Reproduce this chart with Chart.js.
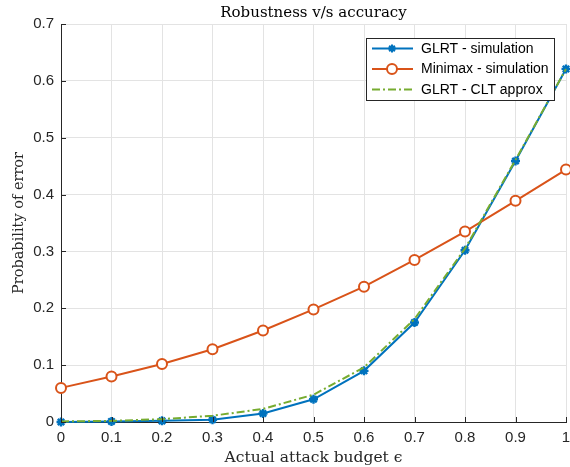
<!DOCTYPE html>
<html>
<head>
<meta charset="utf-8">
<script src="https://cdn.jsdelivr.net/npm/chart.js@4.4.0/dist/chart.umd.min.js"></script>
<style>
html,body{margin:0;padding:0;background:#fff;overflow:hidden;}
#wrap{width:570px;height:467px;overflow:hidden;}
</style>
</head>
<body>
<div id="wrap"><canvas id="c" width="573" height="467"></canvas></div>
<script>
// ---- data ----
const eps = [0, 0.1, 0.2, 0.3, 0.4, 0.5, 0.6, 0.7, 0.8, 0.9, 1];
const glrtSim = [0.000, 0.001, 0.002, 0.004, 0.015, 0.040, 0.090, 0.175, 0.302, 0.459, 0.621];
const minimaxSim = [0.060, 0.080, 0.102, 0.128, 0.161, 0.198, 0.238, 0.285, 0.335, 0.389, 0.444];
const glrtClt = [0.001, 0.002, 0.005, 0.011, 0.023, 0.048, 0.096, 0.181, 0.305, 0.461, 0.621];
const xTickLabels = ['0', '0.1', '0.2', '0.3', '0.4', '0.5', '0.6', '0.7', '0.8', '0.9', '1'];
const yTickLabels = ['0', '0.1', '0.2', '0.3', '0.4', '0.5', '0.6', '0.7'];
const seriesNames = ['GLRT - simulation', 'Minimax - simulation', 'GLRT - CLT approx'];

const BLUE = '#0072BD', ORANGE = '#D95319', GREEN = '#77AC30';
const pts = arr => eps.map((x, i) => ({x: x, y: arr[i]}));

function drawStar(ctx, x, y, r) {
  ctx.beginPath();
  for (let k = 0; k < 4; k++) {
    const a = k * Math.PI / 4;
    ctx.moveTo(x - r * Math.cos(a), y - r * Math.sin(a));
    ctx.lineTo(x + r * Math.cos(a), y + r * Math.sin(a));
  }
  ctx.stroke();
}

const tickPlugin = {
  id: 'innerTicks',
  afterDatasetsDraw(chart) {
    const ctx = chart.ctx, xs = chart.scales.x, ys = chart.scales.y;
    ctx.save();
    ctx.strokeStyle = '#262626';
    ctx.lineWidth = 1;
    ctx.beginPath();
    xs.ticks.forEach(t => {
      const px = Math.round(xs.getPixelForValue(t.value)) + 0.5;
      ctx.moveTo(px, ys.bottom); ctx.lineTo(px, ys.bottom - 5);
    });
    ys.ticks.forEach(t => {
      const py = Math.round(ys.getPixelForValue(t.value)) + 0.5;
      ctx.moveTo(xs.left, py); ctx.lineTo(xs.left + 5, py);
    });
    ctx.stroke();
    ctx.restore();
  }
};

const legendPlugin = {
  id: 'boxLegend',
  afterDraw(chart) {
    const ctx = chart.ctx;
    const bx = 366.5, by = 38.5, bw = 188, bh = 62;
    ctx.save();
    ctx.fillStyle = '#fff';
    ctx.fillRect(bx, by, bw, bh);
    ctx.strokeStyle = '#262626';
    ctx.lineWidth = 1;
    ctx.strokeRect(bx, by, bw, bh);
    const rows = [48.5, 69, 89.5];
    const x0 = 372, x1 = 413, xm = 392;
    ctx.font = '14px "Liberation Sans", Arial, sans-serif';
    ctx.textBaseline = 'middle';
    ctx.textAlign = 'left';
    ctx.lineWidth = 2;
    ctx.strokeStyle = BLUE;
    ctx.beginPath(); ctx.moveTo(x0, rows[0]); ctx.lineTo(x1, rows[0]); ctx.stroke();
    drawStar(ctx, xm, rows[0], 4);
    ctx.strokeStyle = ORANGE;
    ctx.beginPath(); ctx.moveTo(x0, rows[1]); ctx.lineTo(x1, rows[1]); ctx.stroke();
    ctx.fillStyle = '#fff';
    ctx.beginPath(); ctx.arc(xm, rows[1], 5, 0, 2 * Math.PI); ctx.fill(); ctx.stroke();
    ctx.strokeStyle = GREEN;
    ctx.setLineDash([8, 3, 2, 3]);
    ctx.beginPath(); ctx.moveTo(x0, rows[2]); ctx.lineTo(x1, rows[2]); ctx.stroke();
    ctx.setLineDash([]);
    ctx.fillStyle = '#000';
    seriesNames.forEach((n, i) => ctx.fillText(n, 421, rows[i] + 0.5));
    ctx.restore();
  }
};

new Chart(document.getElementById('c'), {
  type: 'line',
  data: {
    datasets: [
      {
        label: seriesNames[0], data: pts(glrtSim), borderColor: BLUE, backgroundColor: BLUE,
        borderWidth: 2, pointStyle: 'star', pointRadius: 4.5, pointBorderWidth: 2.4,
        pointBorderColor: BLUE, pointBackgroundColor: BLUE, clip: false, order: 2, tension: 0
      },
      {
        label: seriesNames[1], data: pts(minimaxSim), borderColor: ORANGE, backgroundColor: '#fff',
        borderWidth: 2, pointStyle: 'circle', pointRadius: 5, pointBorderWidth: 2,
        pointBorderColor: ORANGE, pointBackgroundColor: '#fff', clip: false, order: 1, tension: 0
      },
      {
        label: seriesNames[2], data: pts(glrtClt), borderColor: GREEN, backgroundColor: GREEN,
        borderWidth: 2, borderDash: [8, 3, 2, 3], pointRadius: 0, clip: false, order: 0, tension: 0
      }
    ]
  },
  options: {
    responsive: false,
    animation: false,
    devicePixelRatio: 1,
    layout: {padding: {left: 0, right: 0, top: 0, bottom: 0}},
    plugins: {
      legend: {display: false},
      tooltip: {enabled: false},
      title: {
        display: true, text: 'Robustness v/s accuracy', color: '#000', fullSize: false,
        font: {family: '"DejaVu Serif", serif', size: 15, weight: 'normal', lineHeight: 1.2},
        padding: {top: 4, bottom: 2}
      }
    },
    scales: {
      x: {
        type: 'linear', min: 0, max: 1,
        afterFit(s) { s.height = 45; s.paddingLeft = 0; s.paddingRight = 0; },
        afterBuildTicks(s) { s.ticks = eps.map(v => ({value: v})); },
        ticks: {
          callback: (v, i) => xTickLabels[i], color: '#262626', padding: 7, maxRotation: 0, autoSkip: false,
          font: {family: '"Liberation Sans", Arial, sans-serif', size: 15}
        },
        grid: {color: '#e3e3e3', drawTicks: false, lineWidth: 1},
        border: {color: '#262626', width: 1},
        title: {
          display: true, text: 'Actual attack budget ϵ', color: '#262626',
          font: {family: '"DejaVu Serif", serif', size: 15.5, lineHeight: 1.2},
          padding: {top: 0, bottom: 0}
        }
      },
      y: {
        type: 'linear', min: 0, max: 0.7,
        afterFit(s) { s.width = 61; s.paddingTop = 0; s.paddingBottom = 0; },
        afterBuildTicks(s) { s.ticks = yTickLabels.map(v => ({value: parseFloat(v)})); },
        ticks: {
          callback: (v, i) => yTickLabels[i], color: '#262626', padding: 7, autoSkip: false,
          font: {family: '"Liberation Sans", Arial, sans-serif', size: 15}
        },
        grid: {color: '#e3e3e3', drawTicks: false, lineWidth: 1},
        border: {color: '#262626', width: 1},
        title: {
          display: true, text: 'Probability of error', color: '#262626',
          font: {family: '"DejaVu Serif", serif', size: 14.5, lineHeight: 1.2},
          padding: {top: 11, bottom: 0}
        }
      }
    }
  },
  plugins: [tickPlugin, legendPlugin]
});
</script>
</body>
</html>
